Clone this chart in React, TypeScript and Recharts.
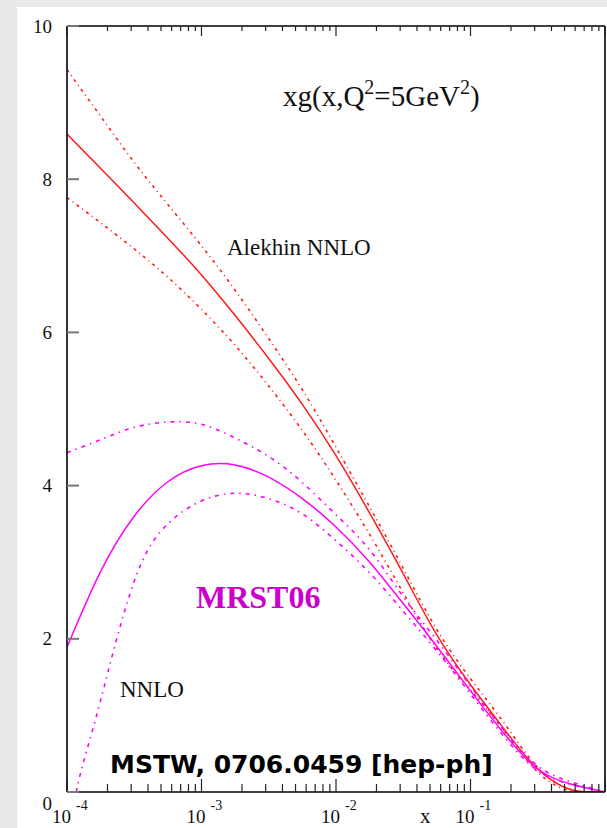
import { Line, LineChart, XAxis, YAxis } from "recharts";

// x positions (quarter decades, plus two points where the lower MRST band starts)
const xs = [1e-4, 1.17e-4, 1.33e-4, 1.78e-4, 3.16e-4, 5.62e-4, 1e-3, 1.78e-3, 3.16e-3, 5.62e-3, 1e-2, 1.78e-2, 3.16e-2, 5.62e-2, 0.1, 0.178, 0.316, 0.562, 1];

const alekhin = [8.59, null, null, 8.14, 7.69, 7.23, 6.75, 6.22, 5.66, 5.06, 4.39, 3.64, 2.85, 2.05, 1.4, 0.82, 0.3, 0.03, 0];
const alekhinUp = [9.43, null, null, 8.82, 8.22, 7.67, 7.13, 6.55, 5.92, 5.25, 4.5, 3.72, 2.92, 2.12, 1.48, 0.9, 0.32, 0.03, 0];
const alekhinLo = [7.76, null, null, 7.43, 7.09, 6.72, 6.3, 5.83, 5.3, 4.72, 4.07, 3.36, 2.6, 1.87, 1.33, 0.8, 0.26, 0.01, 0];

const mrst = [1.89, null, null, 2.88, 3.6, 4.05, 4.26, 4.27, 4.11, 3.83, 3.46, 3.0, 2.46, 1.9, 1.32, 0.76, 0.3, 0.1, 0];
const mrstUp = [4.43, null, null, 4.6, 4.76, 4.83, 4.8, 4.62, 4.38, 4.04, 3.62, 3.16, 2.55, 1.98, 1.38, 0.8, 0.34, 0.13, 0];
const mrstLo = [null, 0, 0.4, 1.2, 2.75, 3.5, 3.8, 3.9, 3.83, 3.63, 3.28, 2.86, 2.36, 1.84, 1.28, 0.72, 0.28, 0.1, 0];

const decades = [1e-4, 1e-3, 1e-2, 1e-1, 1];
const mantissas = [2, 3, 4, 5, 6, 7, 8, 9];
const yTicks = [0, 2, 4, 6, 8, 10];

const xTicks = [
  ...decades,
  ...decades.slice(0, -1).flatMap((d) => mantissas.map((m) => d * m)),
].sort((a, b) => a - b);

const data = xs.map((x, i) => ({
  x,
  alekhin: alekhin[i],
  alekhinUp: alekhinUp[i],
  alekhinLo: alekhinLo[i],
  mrst: mrst[i],
  mrstUp: mrstUp[i],
  mrstLo: mrstLo[i],
}));

const SERIF = "'Liberation Serif', 'DejaVu Serif', serif";
const RED = "#ff1a1a";
const MAG = "#ff00ff";

function decadeOf(v: number) {
  const l = Math.log10(v);
  const e = Math.round(l);
  return { e, major: Math.abs(l - e) < 1e-6 };
}

function BottomTick(props: any) {
  const { x, y, payload } = props;
  const { e, major } = decadeOf(payload.value);
  return (
    <g>
      <line x1={x} x2={x} y1={y} y2={y - (major ? 13 : 8)} stroke="#222" strokeWidth={1.2} />
      {major && e < 0 && (
        <text x={x - 15} y={y + 31} fontFamily={SERIF} fontSize={19} fill="#111">
          10
          <tspan dx={5} dy={-13} fontSize={14}>
            {e}
          </tspan>
        </text>
      )}
    </g>
  );
}

function TopTick(props: any) {
  const { x, y, payload } = props;
  const { major } = decadeOf(payload.value);
  return <line x1={x} x2={x} y1={y} y2={y + (major ? 10 : 5)} stroke="#222" strokeWidth={1.2} />;
}

function LeftTick(props: any) {
  const { x, y, payload } = props;
  return (
    <g>
      <line x1={x} x2={x + 12} y1={y} y2={y} stroke="#777" strokeWidth={2} />
      <text
        x={x - 15}
        y={payload.value === 0 ? y + 11 : y}
        textAnchor="end"
        dominantBaseline="central"
        fontFamily={SERIF}
        fontSize={19}
        fill="#111"
      >
        {payload.value}
      </text>
    </g>
  );
}

function RightTick(props: any) {
  const { x, y } = props;
  return <line x1={x} x2={x - 12} y1={y} y2={y} stroke="#555" strokeWidth={1.5} />;
}

const bandProps = { xAxisId: "b", yAxisId: "l", type: "natural" as const, dot: false, connectNulls: true, isAnimationActive: false };

export default function App() {
  return (
    <div style={{ position: "absolute", left: 0, top: 0, width: 607, height: 828, background: "#e9e9e9" }}>
      <div style={{ position: "absolute", left: 17, top: 7, width: 590, height: 821, background: "#fff" }} />
      <div style={{ position: "absolute", left: 0, top: 0 }}>
        <LineChart width={607} height={828} data={data} margin={{ top: 25, right: 1, bottom: 0, left: 0 }}>
          <XAxis
            xAxisId="b"
            dataKey="x"
            type="number"
            scale="log"
            domain={[1e-4, 1]}
            allowDataOverflow
            ticks={xTicks}
            interval={0}
            height={36}
            tickSize={0}
            tickMargin={0}
            tickLine={false}
            tick={<BottomTick />}
            axisLine={{ stroke: "#000", strokeWidth: 1.6 }}
          />
          <XAxis
            xAxisId="t"
            orientation="top"
            dataKey="x"
            type="number"
            scale="log"
            domain={[1e-4, 1]}
            allowDataOverflow
            ticks={xTicks}
            interval={0}
            height={1}
            tickSize={0}
            tickMargin={0}
            tickLine={false}
            tick={<TopTick />}
            axisLine={{ stroke: "#000", strokeWidth: 1.6 }}
          />
          <YAxis
            yAxisId="l"
            type="number"
            domain={[0, 10]}
            ticks={yTicks}
            interval={0}
            width={67}
            allowDataOverflow
            tickSize={0}
            tickMargin={0}
            tickLine={false}
            tick={<LeftTick />}
            axisLine={{ stroke: "#000", strokeWidth: 1.6 }}
          />
          <YAxis
            yAxisId="r"
            orientation="right"
            type="number"
            domain={[0, 10]}
            ticks={yTicks}
            interval={0}
            width={1}
            tickSize={0}
            tickMargin={0}
            tickLine={false}
            tick={<RightTick />}
            axisLine={{ stroke: "#000", strokeWidth: 1.6 }}
          />
          <Line {...bandProps} dataKey="alekhinUp" stroke={RED} strokeWidth={1.6} strokeDasharray="3 4 1 4" />
          <Line {...bandProps} dataKey="alekhinLo" stroke={RED} strokeWidth={1.6} strokeDasharray="3 4 1 4" />
          <Line {...bandProps} dataKey="alekhin" stroke={RED} strokeWidth={1.5} />
          <Line {...bandProps} dataKey="mrstUp" stroke={MAG} strokeWidth={1.6} strokeDasharray="4 5 1.5 5" />
          <Line {...bandProps} dataKey="mrstLo" stroke={MAG} strokeWidth={1.6} strokeDasharray="4 5 1.5 5" />
          <Line {...bandProps} dataKey="mrst" stroke={MAG} strokeWidth={1.5} />
        </LineChart>
      </div>
      <svg width={607} height={828} style={{ position: "absolute", left: 0, top: 0, pointerEvents: "none" }}>
        <text x={283} y={106} fontFamily={SERIF} fontSize={29} fill="#111">
          xg(x,Q<tspan dy={-12} fontSize={20}>2</tspan>
          <tspan dy={12}>=5GeV</tspan>
          <tspan dy={-12} fontSize={20}>2</tspan>
          <tspan dy={12}>)</tspan>
        </text>
        <text x={227} y={255} fontFamily={SERIF} fontSize={23} fill="#111">Alekhin NNLO</text>
        <text x={196} y={608} fontFamily={SERIF} fontSize={32} fontWeight="bold" fill="#cc00cc">MRST06</text>
        <text x={120} y={697} fontFamily={SERIF} fontSize={23} fill="#111">NNLO</text>
        <text x={110} y={773} fontFamily="'DejaVu Sans', sans-serif" fontSize={25} fontWeight="bold" fill="#000">
          MSTW, 0706.0459 [hep-ph]
        </text>
        <text x={420} y={823} fontFamily={SERIF} fontSize={21} fill="#111">x</text>
      </svg>
    </div>
  );
}
